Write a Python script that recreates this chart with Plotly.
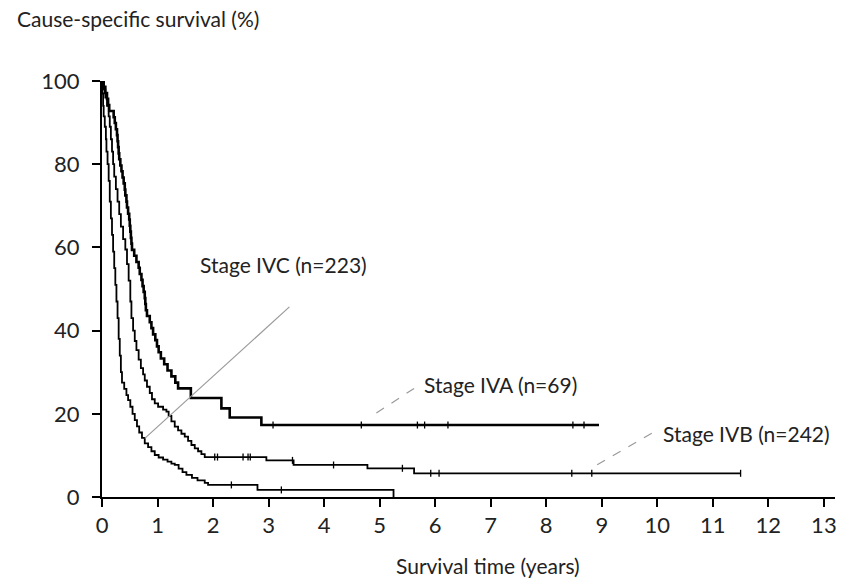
import plotly.graph_objects as go

# ---- data ----
iva_t = [0, 0.03, 0.06, 0.09, 0.11, 0.13, 0.21, 0.23, 0.25, 0.27, 0.28, 0.29, 0.30, 0.31, 0.33, 0.35,
         0.37, 0.39, 0.41, 0.42, 0.44, 0.45, 0.47, 0.49, 0.50, 0.51, 0.52, 0.53, 0.54, 0.58, 0.62, 0.66,
         0.68, 0.71, 0.73, 0.75, 0.77, 0.78, 0.79, 0.81, 0.86, 0.89, 0.92, 0.96, 0.99, 1.02, 1.06, 1.12,
         1.18, 1.25, 1.32, 1.37, 1.60, 2.15, 2.30, 2.87, 8.95]
iva_s = [100, 98.6, 97.1, 95.7, 94.2, 92.8, 91.3, 89.9, 88.4, 87.0, 85.5, 84.1, 82.6, 81.2, 79.7, 78.3,
         76.8, 75.4, 73.9, 72.5, 71.0, 69.6, 68.1, 66.7, 65.2, 63.8, 62.3, 60.9, 59.4, 58.0, 56.5, 55.1,
         53.6, 52.2, 50.7, 49.3, 47.8, 46.4, 44.9, 43.5, 42.0, 40.6, 39.1, 37.7, 36.2, 34.8, 33.3, 31.9,
         30.4, 29.0, 27.5, 26.1, 23.8, 21.3, 19.1, 17.3, 17.3]
iva_cens_t = [3.08, 4.67, 5.68, 5.81, 6.23, 8.48, 8.68]
iva_cens_s = [17.3, 17.3, 17.3, 17.3, 17.3, 17.3, 17.3]

ivb_t = [0, 0.03, 0.06, 0.09, 0.12, 0.14, 0.16, 0.18, 0.20, 0.22, 0.25, 0.28, 0.31, 0.34, 0.38, 0.42,
         0.45, 0.48, 0.51, 0.53, 0.56, 0.59, 0.62, 0.66, 0.70, 0.74, 0.77, 0.81, 0.86, 0.90, 0.95, 1.01,
         1.10, 1.16, 1.20, 1.25, 1.31, 1.37, 1.43, 1.49, 1.55, 1.61, 1.67, 1.73, 1.79, 1.85, 2.96, 3.45,
         4.78, 5.62, 11.5]
ivb_s = [100, 98, 96, 94, 91.5, 89, 86, 83, 80, 77, 74, 71, 68, 65, 62, 59.5,
         56, 52, 47, 43, 40, 37.5, 35.3, 33, 31, 29.5, 28, 26.5, 25, 23.5, 22.5, 21.7,
         21, 20.5, 19.5, 18.2, 16.9, 16, 15.2, 14.5, 13.5, 12.5, 11.7, 11, 10.3, 9.6, 8.8, 7.7,
         6.9, 5.7, 5.7]
ivb_cens_t = [2.03, 2.08, 2.54, 2.63, 2.67, 3.43, 4.17, 5.41, 5.92, 6.07, 8.46, 8.82, 11.5]
ivb_cens_s = [9.6, 9.6, 9.6, 9.6, 9.6, 8.8, 7.7, 6.9, 5.7, 5.7, 5.7, 5.7, 5.7]

ivc_t = [0, 0.01, 0.02, 0.03, 0.05, 0.07, 0.08, 0.10, 0.12, 0.14, 0.16, 0.18, 0.20, 0.22, 0.24, 0.26,
         0.28, 0.30, 0.32, 0.34, 0.36, 0.40, 0.44, 0.47, 0.51, 0.55, 0.59, 0.63, 0.67, 0.72, 0.77, 0.83,
         0.89, 0.95, 1.02, 1.10, 1.18, 1.25, 1.31, 1.38, 1.45, 1.52, 1.62, 1.72, 1.85, 1.91, 2.80, 5.25, 5.25]
ivc_s = [100, 97, 94, 91.5, 89, 86, 83, 80, 76, 71, 67, 63, 59, 55, 51, 47,
         43, 38, 34, 30, 27.5, 26, 24.5, 23.3, 21.7, 20, 18.5, 17, 15.5, 14.2, 12.9, 12,
         11, 10.1, 9.5, 9, 8.5, 8, 7.7, 6.8, 6, 5.3, 4.6, 4, 3.4, 2.9, 1.7, 1.7, 0]
ivc_cens_t = [2.33, 3.23]
ivc_cens_s = [2.9, 1.7]

x_ticks = list(range(0, 14))
y_ticks = [0, 20, 40, 60, 80, 100]

labels = ["Stage IVA (n=69)", "Stage IVB (n=242)", "Stage IVC (n=223)"]
label_x = [5.76, 10.07, 1.72]
label_y = [27.0, 15.2, 55.8]
pointer_x = [[5.62, 4.93], [9.90, 8.81], [3.375, 0.77]]
pointer_y = [[26.1, 20.1], [15.3, 6.9], [45.7, 14.1]]
pointer_dash = ["dash", "dash", "solid"]

FONT = "Lato, 'Open Sans', sans-serif"
TXT = "#222222"

fig = go.Figure()

for t, s, w in [(iva_t, iva_s, 2.6), (ivb_t, ivb_s, 1.8), (ivc_t, ivc_s, 1.8)]:
    fig.add_trace(go.Scatter(x=t, y=s, mode="lines", line=dict(color="black", width=w, shape="hv"),
                             showlegend=False, hoverinfo="skip", cliponaxis=False))

for t, s in [(iva_cens_t, iva_cens_s), (ivb_cens_t, ivb_cens_s), (ivc_cens_t, ivc_cens_s)]:
    fig.add_trace(go.Scatter(x=t, y=s, mode="markers",
                             marker=dict(symbol="line-ns", size=5, line=dict(color="black", width=1.3)),
                             showlegend=False, hoverinfo="skip", cliponaxis=False))

for px, py, d in zip(pointer_x, pointer_y, pointer_dash):
    fig.add_trace(go.Scatter(x=px, y=py, mode="lines", line=dict(color="#9a9a9a", width=1.2, dash=d),
                             showlegend=False, hoverinfo="skip"))

for txt, lx, ly in zip(labels, label_x, label_y):
    fig.add_annotation(x=lx, y=ly, text=txt, showarrow=False, xanchor="left", yanchor="middle",
                       font=dict(family=FONT, size=21, color=TXT))

fig.add_annotation(xref="paper", yref="paper", x=0, y=1.0, xshift=-87, yshift=63,
                   text="Cause-specific survival (%)", showarrow=False, xanchor="left", yanchor="middle",
                   font=dict(family=FONT, size=21, color=TXT))
fig.add_annotation(xref="paper", yref="paper", x=0, y=0, xshift=386, yshift=-68,
                   text="Survival time (years)", showarrow=False, xanchor="center", yanchor="middle",
                   font=dict(family=FONT, size=21, color=TXT))

fig.update_layout(
    width=845, height=585,
    margin=dict(l=102, r=8, t=81, b=88),
    plot_bgcolor="white", paper_bgcolor="white",
    xaxis=dict(range=[0, 13.2], tickmode="array", tickvals=x_ticks, ticktext=[str(v) for v in x_ticks],
               showgrid=False, zeroline=False, showline=True, linecolor="black", linewidth=2,
               ticks="outside", ticklen=8, tickwidth=2, tickcolor="black",
               tickfont=dict(family=FONT, size=22, color=TXT)),
    yaxis=dict(range=[0, 100], tickmode="array", tickvals=y_ticks, ticktext=[str(v) for v in y_ticks],
               showgrid=False, zeroline=False, showline=True, linecolor="black", linewidth=2,
               ticks="outside", ticklen=8, tickwidth=2, tickcolor="black", ticklabelstandoff=8,
               tickfont=dict(family=FONT, size=22, color=TXT)),
)

fig.write_html("out.html")
